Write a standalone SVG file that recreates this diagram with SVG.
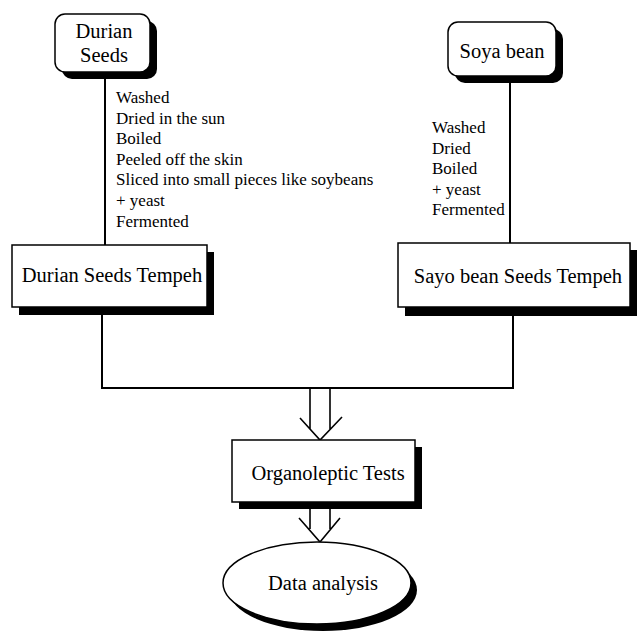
<svg xmlns="http://www.w3.org/2000/svg" width="637" height="631" viewBox="0 0 637 631">
<style>
.box{fill:#fff;stroke:#000;stroke-width:1.5}
.sh{fill:#000;stroke:none}
.t{font-family:"Liberation Serif","Times New Roman",serif;fill:#000}
.big{font-size:20.5px}
.small{font-size:17px}
.ln{fill:none;stroke:#000;stroke-width:2}
.ar{fill:none;stroke:#000;stroke-width:1.6}
</style>
<rect width="637" height="631" fill="#fff"/>
<g id="connectors">
<line class="ln" x1="105" y1="72" x2="105" y2="245"/>
<line class="ln" x1="510" y1="76" x2="510" y2="243"/>
<polyline class="ln" points="102,307 102,388 513,388 513,307"/>
<path class="ar" d="M310,388 V429 M330,388 V429 M300,418 L320,440 L342,417"/>
<path class="ar" d="M310,509 V529 M330,509 V529 M299,518 L320,542 L340,518"/>
</g>
<g id="durian-seeds">
<rect class="sh" x="62" y="21" width="95" height="58" rx="10"/>
<rect class="box" x="55" y="14" width="95" height="58" rx="10"/>
<text class="t big" x="104" y="38" text-anchor="middle">Durian</text>
<text class="t big" x="104" y="62" text-anchor="middle">Seeds</text>
</g>
<g id="soya-bean">
<rect class="sh" x="455" y="29" width="108" height="54" rx="10"/>
<rect class="box" x="448" y="22" width="108" height="54" rx="10"/>
<text class="t big" x="502" y="58" text-anchor="middle">Soya bean</text>
</g>
<g id="durian-steps">
<text class="t small" x="116" y="103">Washed</text>
<text class="t small" x="116" y="123.6">Dried in the sun</text>
<text class="t small" x="116" y="144.2">Boiled</text>
<text class="t small" x="116" y="164.8">Peeled off the skin</text>
<text class="t small" x="116" y="185.4">Sliced into small pieces like soybeans</text>
<text class="t small" x="116" y="206">+ yeast</text>
<text class="t small" x="116" y="226.6">Fermented</text>
</g>
<g id="soya-steps">
<text class="t small" x="432" y="133">Washed</text>
<text class="t small" x="432" y="153.6">Dried</text>
<text class="t small" x="432" y="174.2">Boiled</text>
<text class="t small" x="432" y="194.8">+ yeast</text>
<text class="t small" x="432" y="215.4">Fermented</text>
</g>
<g id="durian-tempeh">
<rect class="sh" x="19" y="252" width="195" height="63"/>
<rect class="box" x="12" y="245" width="195" height="62"/>
<text class="t big" x="112" y="282" text-anchor="middle">Durian Seeds Tempeh</text>
</g>
<g id="sayo-tempeh">
<rect class="sh" x="405" y="250" width="232" height="66"/>
<rect class="box" x="398" y="243" width="232" height="64"/>
<text class="t big" x="518" y="283" text-anchor="middle">Sayo bean Seeds Tempeh</text>
</g>
<g id="organoleptic">
<rect class="sh" x="239" y="447" width="183" height="62"/>
<rect class="box" x="232" y="440" width="183" height="62"/>
<text class="t big" x="328" y="480" text-anchor="middle">Organoleptic Tests</text>
</g>
<g id="data-analysis">
<ellipse class="sh" cx="323" cy="590" rx="94" ry="41"/>
<ellipse class="box" cx="317" cy="583" rx="94" ry="41"/>
<text class="t big" x="323" y="590" text-anchor="middle">Data analysis</text>
</g>
</svg>
